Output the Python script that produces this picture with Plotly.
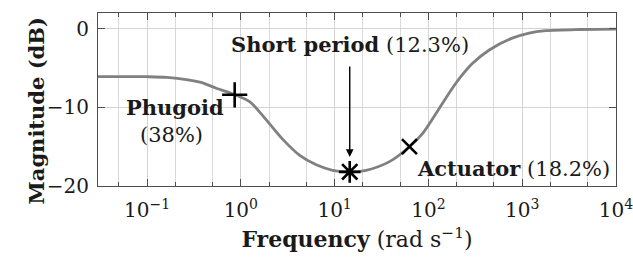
import plotly.graph_objects as go
import math

# Magnitude curve
freq = [0.03, 0.1, 0.163, 0.366, 0.556, 0.863, 1.25, 1.87, 2.82, 4.25, 6.38, 9.53,
        14.5, 21.7, 38.5, 62.8, 86.9, 131, 197, 296, 446, 783, 1186, 1786, 4036, 10000]
mag = [-6.1, -6.1, -6.2, -6.8, -7.6, -8.4, -9.3, -11.6, -14.1, -16.1, -17.3, -18.0,
       -18.2, -18.0, -16.9, -15.0, -13.3, -10.1, -6.9, -4.4, -2.7, -1.2, -0.55,
       -0.25, -0.1, -0.05]

# Mode markers
mode_names = ["Phugoid", "Short period", "Actuator"]
mode_pct = ["38%", "12.3%", "18.2%"]
mode_freq = [0.86, 14.5, 62.8]
mode_mag = [-8.4, -18.2, -15.0]
mode_symbols = ["cross-thin", "asterisk", "x-thin"]
mode_sizes = [18, 18, 15]

xtick_vals = [0.1, 1, 10, 100, 1000, 10000]
xtick_text = ["10<sup>−1</sup>", "10<sup>0</sup>", "10<sup>1</sup>", "10<sup>2</sup>",
              "10<sup>3</sup>", "10<sup>4</sup>"]
ytick_vals = [-20, -10, 0]
ytick_text = ["−20", "−10", "0"]

FONT = "DejaVu Serif"
FS = 20
AFS = 21
TXT = "#1a1a1a"

fig = go.Figure()
fig.add_trace(go.Scatter(x=freq, y=mag, mode="lines",
                         line=dict(color="#808080", width=2.8, shape="spline", smoothing=0.8),
                         showlegend=False, hoverinfo="skip"))
for f, m, s, sz in zip(mode_freq, mode_mag, mode_symbols, mode_sizes):
    fig.add_trace(go.Scatter(x=[f], y=[m], mode="markers",
                             marker=dict(symbol=s, size=sz, color="black",
                                         line=dict(color="black", width=2.6)),
                             showlegend=False))

# annotations
fig.add_annotation(x=-0.70, y=-10.0, xref="x", yref="y",
                   text=f"<b>{mode_names[0]}</b>", showarrow=False, font=dict(size=AFS))
fig.add_annotation(x=-0.74, y=-13.5, xref="x", yref="y",
                   text=f"({mode_pct[0]})", showarrow=False, font=dict(size=AFS))
fig.add_annotation(x=math.log10(mode_freq[1]), y=-2.0, xref="x", yref="y",
                   text=f"<b>{mode_names[1]}</b> ({mode_pct[1]})", showarrow=False, font=dict(size=AFS))
fig.add_annotation(x=math.log10(mode_freq[1]), y=-16.3, xref="x", yref="y",
                   ax=math.log10(mode_freq[1]), ay=-4.6, axref="x", ayref="y",
                   text="", showarrow=True, arrowhead=2, arrowsize=1.1, arrowwidth=1.4,
                   arrowcolor="black")
fig.add_annotation(x=3.955, y=-17.8, xref="x", yref="y", xanchor="right",
                   text=f"<b>{mode_names[2]}</b> ({mode_pct[2]})", showarrow=False, font=dict(size=AFS))

# y-axis title as a rotated annotation so it can sit exactly where the reference has it
fig.add_annotation(x=0, y=0.434, xref="paper", yref="paper", xshift=-76,
                   text="<b>Magnitude (dB)</b>", textangle=-90, showarrow=False,
                   font=dict(size=21, family=FONT, color=TXT))

axis_common = dict(showline=True, linecolor="#4d4d4d", linewidth=1.2, mirror="ticks",
                   ticks="inside", tickcolor="#4d4d4d", ticklen=7, tickwidth=1,
                   gridcolor="#d3d3d3", gridwidth=1, zeroline=False, automargin=False,
                   tickfont=dict(size=FS, family=FONT, color=TXT))

fig.update_xaxes(type="log", range=[math.log10(0.03), 4.0005], tickvals=xtick_vals, ticktext=xtick_text,
                 minor=dict(ticks="inside", ticklen=4, tickcolor="#4d4d4d", showgrid=True,
                            gridcolor="#d9d9d9", gridwidth=1),
                 ticklabelstandoff=6, ticklabeloverflow="allow",
                 title=dict(text="<b>Frequency</b> (rad s<sup>−1</sup>)",
                            font=dict(size=22, family=FONT, color=TXT), standoff=10),
                 **axis_common)
fig.update_yaxes(range=[-20, 2], tickvals=ytick_vals, ticktext=ytick_text,
                 ticklabelstandoff=4,
                 **axis_common)

fig.update_layout(width=633, height=267, margin=dict(l=98, r=17, t=13, b=81),
                  plot_bgcolor="white", paper_bgcolor="white",
                  font=dict(family=FONT, color=TXT, size=FS))

# remove the default page margin so the figure fills the window exactly
fig.write_html("out.html", config={"displayModeBar": False},
               post_script="document.body.style.margin='0';document.body.style.overflow='hidden';")
